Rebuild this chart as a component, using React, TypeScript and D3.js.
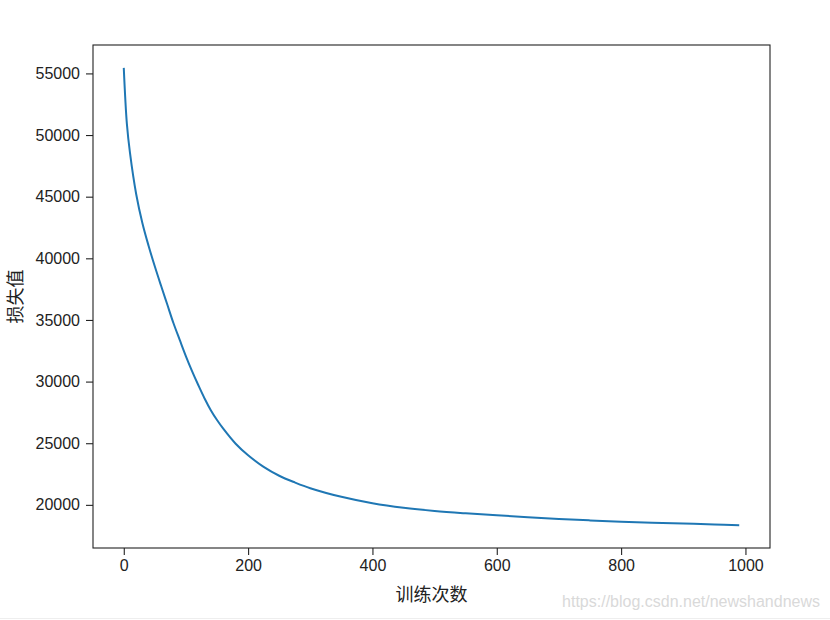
import React, { useEffect, useRef } from "react";
import * as d3 from "d3";

// training step -> loss value
const steps = [
  0, 5, 10, 20, 30, 40, 50, 60, 70, 80, 90, 100, 110, 120, 130, 140, 150, 160,
  180, 200, 225, 250, 275, 300, 350, 400, 450, 500, 550, 600, 650, 700, 750,
  800, 850, 900, 950, 990,
];
const losses = [
  55450, 50900, 48550, 45200, 42850, 41000, 39330, 37770, 36250, 34730, 33380,
  32050, 30830, 29700, 28630, 27680, 26880, 26180, 24960, 24020, 23080, 22360,
  21820, 21350, 20650, 20130, 19760, 19500, 19310, 19150, 19000, 18860, 18740,
  18635, 18555, 18485, 18415, 18355,
];
const xTicks = [0, 200, 400, 600, 800, 1000];
const yTicks = [20000, 25000, 30000, 35000, 40000, 45000, 50000, 55000];
const xLabel = "训练次数";
const yLabel = "损失值";
const watermark = "https://blog.csdn.net/newshandnews";

const LossChart = () => {
  const svgRef = useRef(null);

  useEffect(() => {
    const svg = d3.select(svgRef.current);
    svg.selectAll("*").remove();

    const width = 830;
    const height = 620;
    const box = { left: 93, right: 770, top: 45, bottom: 548 };
    const tickFont = "'Liberation Sans', Arial, sans-serif";
    const cjkFont = "'Noto Sans CJK SC', sans-serif";

    const data = steps.map((s, i) => ({ step: s, loss: losses[i] }));

    // matplotlib style 5% margins around the data
    const [x0, x1] = d3.extent(steps);
    const [y0, y1] = d3.extent(losses);
    const xPad = (x1 - x0) * 0.05;
    const yPad = (y1 - y0) * 0.05;

    const xScale = d3
      .scaleLinear()
      .domain([x0 - xPad, x1 + xPad])
      .range([box.left, box.right]);

    const yScale = d3
      .scaleLinear()
      .domain([y0 - yPad, y1 + yPad])
      .range([box.bottom, box.top]);

    svg.append("rect").attr("width", width).attr("height", height).attr("fill", "white");

    // line
    const line = d3
      .line()
      .x((d) => xScale(d.step))
      .y((d) => yScale(d.loss))
      .curve(d3.curveCatmullRom.alpha(0.5));

    svg
      .append("path")
      .datum(data)
      .attr("d", line)
      .attr("fill", "none")
      .attr("stroke", "#1f77b4")
      .attr("stroke-width", 2);

    // axes
    const xAxis = svg
      .append("g")
      .attr("transform", `translate(0, ${box.bottom})`)
      .call(d3.axisBottom(xScale).tickValues(xTicks).tickSize(7).tickPadding(5).tickFormat(d3.format("d")));

    const yAxis = svg
      .append("g")
      .attr("transform", `translate(${box.left}, 0)`)
      .call(d3.axisLeft(yScale).tickValues(yTicks).tickSize(7).tickPadding(6).tickFormat(d3.format("d")));

    [xAxis, yAxis].forEach((g) => {
      g.select(".domain").remove();
      g.selectAll("line").attr("stroke", "#222").attr("stroke-width", 1.1);
      g.selectAll("text")
        .attr("fill", "#222")
        .style("font-family", tickFont)
        .style("font-size", "16px");
    });

    // frame
    svg
      .append("rect")
      .attr("x", box.left)
      .attr("y", box.top)
      .attr("width", box.right - box.left)
      .attr("height", box.bottom - box.top)
      .attr("fill", "none")
      .attr("stroke", "#222")
      .attr("stroke-width", 1.1);

    // axis labels
    svg
      .append("text")
      .attr("x", (box.left + box.right) / 2)
      .attr("y", 601)
      .attr("text-anchor", "middle")
      .attr("fill", "#222")
      .style("font-family", cjkFont)
      .style("font-size", "18px")
      .text(xLabel);

    svg
      .append("text")
      .attr("transform", `translate(22, ${(box.top + box.bottom) / 2}) rotate(-90)`)
      .attr("text-anchor", "middle")
      .attr("fill", "#222")
      .style("font-family", cjkFont)
      .style("font-size", "18px")
      .text(yLabel);

    // watermark
    svg
      .append("text")
      .attr("x", 820)
      .attr("y", 607)
      .attr("text-anchor", "end")
      .attr("fill", "#d9d9d9")
      .style("font-family", tickFont)
      .style("font-size", "16px")
      .text(watermark);

    svg
      .append("line")
      .attr("x1", 0)
      .attr("x2", width)
      .attr("y1", 618.5)
      .attr("y2", 618.5)
      .attr("stroke", "#eeeeee");
  }, []);

  return (
    <svg
      ref={svgRef}
      width={830}
      height={620}
      style={{ position: "absolute", left: 0, top: 0, display: "block" }}
    ></svg>
  );
};

export default function App() {
  return <LossChart />;
}
